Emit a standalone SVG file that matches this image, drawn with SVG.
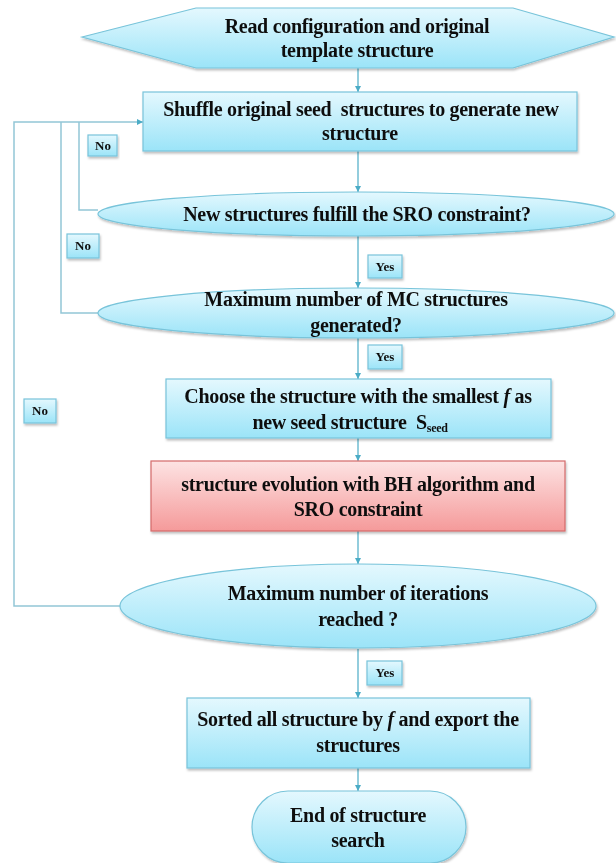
<svg xmlns="http://www.w3.org/2000/svg" width="616" height="863" viewBox="0 0 616 863">
<defs>
<linearGradient id="gb" x1="0" y1="0" x2="0" y2="1"><stop offset="0" stop-color="#e4f8fe"/><stop offset="1" stop-color="#9be4f8"/></linearGradient>
<linearGradient id="gr" x1="0" y1="0" x2="0" y2="1"><stop offset="0" stop-color="#fde3e3"/><stop offset="1" stop-color="#f59a9a"/></linearGradient>
<filter id="sh" x="-10%" y="-10%" width="120%" height="130%"><feDropShadow dx="1" dy="2" stdDeviation="1.2" flood-color="#000" flood-opacity="0.25"/></filter>
<marker id="ar" viewBox="0 0 10 10" refX="10" refY="5" markerWidth="6" markerHeight="6" orient="auto" markerUnits="userSpaceOnUse"><path d="M0,0 L10,5 L0,10 z" fill="#4bacc6"/></marker>
</defs>
<style>
.b{fill:url(#gb);stroke:#78c4da;stroke-width:1.2}
.r{fill:url(#gr);stroke:#d46a6a;stroke-width:1.2}
.t{font-family:"Liberation Serif","Times New Roman",serif;font-weight:bold;font-size:20px;letter-spacing:-0.3px;fill:#111;text-anchor:middle}
.s{font-family:"Liberation Serif","Times New Roman",serif;font-weight:bold;font-size:13px;fill:#111;text-anchor:middle}
.c{fill:none;stroke:#4bacc6;stroke-width:1.2}
.l{fill:none;stroke:#93c6d6;stroke-width:1.5}
</style>
<g id="connectors">
<path class="c" d="M358,68 V92" marker-end="url(#ar)"/>
<path class="c" d="M358,151 V192" marker-end="url(#ar)"/>
<path class="c" d="M358,236 V288" marker-end="url(#ar)"/>
<path class="c" d="M358,338 V379" marker-end="url(#ar)"/>
<path class="c" d="M358,438 V461" marker-end="url(#ar)"/>
<path class="c" d="M358,531 V564" marker-end="url(#ar)"/>
<path class="c" d="M358,649 V698" marker-end="url(#ar)"/>
<path class="c" d="M358,768 V791" marker-end="url(#ar)"/>
<path class="l" d="M98,210 H79 V122"/>
<path class="l" d="M98,313 H61 V122"/>
<path class="l" d="M120,606 H14 V122 H143" marker-end="url(#ar)"/>
</g>
<g id="n1" filter="url(#sh)"><polygon class="b" points="82,37 196,8 513,8 614,37 513,68 196,68"/>
<text class="t" x="357" y="33">Read configuration and original</text><text class="t" x="357" y="57">template structure</text></g>
<g id="n2" filter="url(#sh)"><rect class="b" x="143" y="92" width="434" height="59"/>
<text class="t" x="361" y="116" xml:space="preserve">Shuffle original seed  structures to generate new</text><text class="t" x="360" y="140">structure</text></g>
<g id="n3" filter="url(#sh)"><ellipse class="b" cx="356" cy="214" rx="258" ry="22"/>
<text class="t" x="357" y="221">New structures fulfill the SRO constraint?</text></g>
<g id="n4" filter="url(#sh)"><ellipse class="b" cx="356" cy="313" rx="258" ry="25"/>
<text class="t" x="356" y="306">Maximum number of MC structures</text><text class="t" x="356" y="332">generated?</text></g>
<g id="n5" filter="url(#sh)"><rect class="b" x="166" y="379" width="385" height="59"/>
<text class="t" x="358" y="403">Choose the structure with the smallest <tspan font-style="italic">f</tspan> as</text><text class="t" x="350" y="429" xml:space="preserve">new seed structure  S<tspan font-size="12" dy="3">seed</tspan></text></g>
<g id="n6" filter="url(#sh)"><rect class="r" x="151" y="461" width="414" height="70"/>
<text class="t" x="358" y="491">structure evolution with BH algorithm and</text><text class="t" x="358" y="516">SRO constraint</text></g>
<g id="n7" filter="url(#sh)"><ellipse class="b" cx="358" cy="606" rx="238" ry="42"/>
<text class="t" x="358" y="600">Maximum number of iterations</text><text class="t" x="358" y="626">reached ?</text></g>
<g id="n8" filter="url(#sh)"><rect class="b" x="187" y="698" width="343" height="70"/>
<text class="t" x="358" y="726">Sorted all structure by <tspan font-style="italic">f</tspan> and export the</text><text class="t" x="358" y="752">structures</text></g>
<g id="n9" filter="url(#sh)"><rect class="b" x="252" y="791" width="214" height="72" rx="36"/>
<text class="t" x="358" y="822">End of structure</text><text class="t" x="358" y="847">search</text></g>
<g id="lb1" filter="url(#sh)"><rect class="b" x="88" y="135" width="29" height="21"/><text class="s" x="103" y="150">No</text></g>
<g id="lb2" filter="url(#sh)"><rect class="b" x="67" y="234" width="32" height="24"/><text class="s" x="83" y="250">No</text></g>
<g id="lb3" filter="url(#sh)"><rect class="b" x="24" y="399" width="32" height="24"/><text class="s" x="40" y="415">No</text></g>
<g id="lb4" filter="url(#sh)"><rect class="b" x="368" y="255" width="34" height="23"/><text class="s" x="385" y="271">Yes</text></g>
<g id="lb5" filter="url(#sh)"><rect class="b" x="368" y="345" width="34" height="24"/><text class="s" x="385" y="361">Yes</text></g>
<g id="lb6" filter="url(#sh)"><rect class="b" x="367" y="661" width="35" height="24"/><text class="s" x="385" y="677">Yes</text></g>
</svg>
